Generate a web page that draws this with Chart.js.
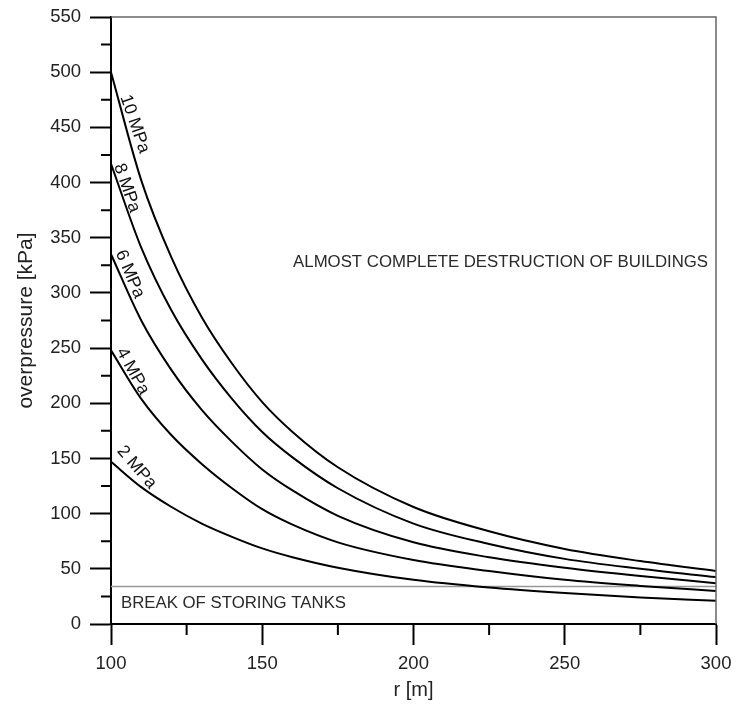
<!DOCTYPE html>
<html>
<head>
<meta charset="utf-8">
<script src="https://cdn.jsdelivr.net/npm/chart.js@4.4.0/dist/chart.umd.min.js"></script>
<style>
  body { margin: 0; background: #fff; }
  #wrap { width: 736px; height: 704px; }
</style>
</head>
<body>
<div id="wrap"><canvas id="chart" width="736" height="704"></canvas></div>
<script>
// distance r [m]
const radius = [100, 110, 120, 130, 140, 150, 160, 175, 200, 225, 250, 275, 300];

// overpressure [kPa] for each tank pressure
const p10 = [500, 402, 332, 278, 236, 201, 174, 142, 106, 84, 68, 57, 48];
const p8  = [417, 341, 284, 240, 204, 174, 151, 123, 91, 72.5, 59, 50, 42.5];
const p6  = [335, 275, 230, 194, 165, 140, 121, 98, 74, 60.5, 51, 43.5, 37];
const p4  = [248, 204, 171, 145, 123, 104, 90, 74, 58, 48, 40, 34.5, 30];
const p2  = [147, 124, 106, 91, 79, 68.5, 60.5, 51, 40, 33, 28, 24, 21];

const curveNames = ['10 MPa', '8 MPa', '6 MPa', '4 MPa', '2 MPa'];

// break of storing tanks limit
const tankR = [100, 300];
const tankP = [34, 34];

const xTicks = [100, 150, 200, 250, 300];
const yTicks = [0, 50, 100, 150, 200, 250, 300, 350, 400, 450, 500, 550];

function points(xs, ys) {
    return xs.map((x, i) => ({ x: x, y: ys[i] }));
}

const font = "'Liberation Sans', Arial, sans-serif";

// where the curve names sit (data coords)
const curveLabelPos = [
    { r: 107.8, p: 453, angle: 71 },
    { r: 105.2, p: 395, angle: 71 },
    { r: 106.2, p: 317, angle: 67 },
    { r: 107.2, p: 229, angle: 61 },
    { r: 108.5, p: 142, angle: 49 }
];

const extras = {
    id: 'extras',
    afterDraw(chart) {
        const ctx = chart.ctx;
        const xs = chart.scales.x, ys = chart.scales.y;
        const a = chart.chartArea;
        ctx.save();

        // top and right frame
        ctx.strokeStyle = '#666';
        ctx.lineWidth = 1.5;
        ctx.beginPath();
        ctx.moveTo(a.left, a.top);
        ctx.lineTo(a.right, a.top);
        ctx.lineTo(a.right, a.bottom);
        ctx.stroke();

        // minor ticks
        ctx.strokeStyle = '#000';
        ctx.lineWidth = 2;
        ctx.beginPath();
        for (let v = 25; v < 550; v += 50) {
            const y = ys.getPixelForValue(v);
            ctx.moveTo(a.left - 10, y);
            ctx.lineTo(a.left, y);
        }
        for (let v = 125; v < 300; v += 50) {
            const x = xs.getPixelForValue(v);
            ctx.moveTo(x, a.bottom);
            ctx.lineTo(x, a.bottom + 11);
        }
        ctx.stroke();

        // curve names
        ctx.fillStyle = '#111';
        ctx.font = '17.5px ' + font;
        ctx.textAlign = 'center';
        ctx.textBaseline = 'middle';
        curveLabelPos.forEach((l, i) => {
            ctx.save();
            ctx.translate(xs.getPixelForValue(l.r), ys.getPixelForValue(l.p));
            ctx.rotate(l.angle * Math.PI / 180);
            ctx.fillText(curveNames[i], 0, 0);
            ctx.restore();
        });

        // zone texts
        ctx.fillStyle = '#2a2a2a';
        ctx.font = '16.8px ' + font;
        ctx.textAlign = 'left';
        ctx.fillText('ALMOST COMPLETE DESTRUCTION OF BUILDINGS',
            xs.getPixelForValue(160.2), ys.getPixelForValue(328));
        ctx.fillText('BREAK OF STORING TANKS',
            xs.getPixelForValue(103.3), ys.getPixelForValue(19));

        ctx.restore();
    }
};

function curve(label, data) {
    return {
        label: label,
        data: points(radius, data),
        borderColor: '#000',
        borderWidth: 2,
        pointRadius: 0,
        cubicInterpolationMode: 'monotone',
        fill: false
    };
}

new Chart(document.getElementById('chart'), {
    type: 'line',
    data: {
        datasets: [
            curve(curveNames[0], p10),
            curve(curveNames[1], p8),
            curve(curveNames[2], p6),
            curve(curveNames[3], p4),
            curve(curveNames[4], p2),
            {
                label: 'tanks',
                data: points(tankR, tankP),
                borderColor: '#999',
                borderWidth: 1.5,
                pointRadius: 0,
                fill: false
            }
        ]
    },
    options: {
        responsive: false,
        animation: false,
        layout: { padding: { top: 17, right: 20, left: 0, bottom: 0 } },
        plugins: {
            legend: { display: false },
            tooltip: { enabled: false }
        },
        scales: {
            x: {
                type: 'linear',
                min: 100,
                max: 300,
                afterFit(s) { s.height = 80; s.paddingLeft = 0; s.paddingRight = 0; },
                ticks: {
                    stepSize: 25,
                    autoSkip: false,
                    maxRotation: 0,
                    padding: 8,
                    color: '#222',
                    font: { family: font, size: 18.5 },
                    callback: v => xTicks.includes(v) ? String(v) : ''
                },
                grid: {
                    drawOnChartArea: false,
                    tickLength: 21,
                    tickWidth: 2,
                    tickColor: c => xTicks.includes(c.tick.value) ? '#000' : 'rgba(0,0,0,0)'
                },
                border: { color: '#000', width: 2 },
                title: {
                    display: true,
                    text: 'r [m]',
                    color: '#222',
                    font: { family: font, size: 20 },
                    padding: { top: 0, bottom: 2 }
                }
            },
            y: {
                min: 0,
                max: 550,
                afterFit(s) { s.width = 111; s.paddingTop = 0; s.paddingBottom = 0; },
                ticks: {
                    stepSize: 25,
                    autoSkip: false,
                    padding: 9,
                    color: '#222',
                    font: { family: font, size: 18.5 },
                    callback: v => yTicks.includes(v) ? String(v) : ''
                },
                grid: {
                    drawOnChartArea: false,
                    tickLength: 21,
                    tickWidth: 2,
                    tickColor: c => yTicks.includes(c.tick.value) ? '#000' : 'rgba(0,0,0,0)'
                },
                border: { color: '#000', width: 2 },
                title: {
                    display: true,
                    text: 'overpressure [kPa]',
                    color: '#222',
                    font: { family: font, size: 21 },
                    padding: { top: 14, bottom: 0 }
                }
            }
        }
    },
    plugins: [extras]
});
</script>
</body>
</html>
